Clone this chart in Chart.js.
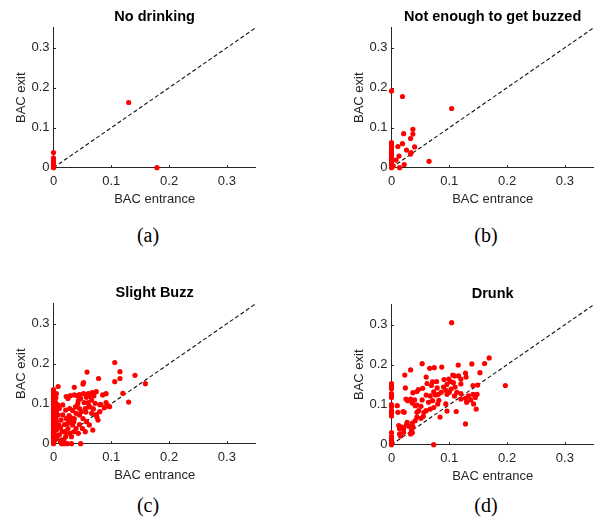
<!DOCTYPE html>
<html>
<head>
<meta charset="utf-8">
<script src="https://cdn.jsdelivr.net/npm/chart.js@4"></script>
<style>
    body { margin: 0; width: 600px; height: 523px; overflow: hidden; background: #fff; position: relative; }
    .panel { position: absolute; }
    .caption { position: absolute; font-family: "Liberation Serif", "Times New Roman", serif; font-size: 20px; color: #000; transform: translate(-50%, -50%); }
</style>
</head>
<body>
<canvas id="chartA" class="panel" width="300" height="215" style="left:0px;top:0px"></canvas>
<canvas id="chartB" class="panel" width="300" height="215" style="left:338px;top:0px"></canvas>
<canvas id="chartC" class="panel" width="300" height="215" style="left:0px;top:276px"></canvas>
<canvas id="chartD" class="panel" width="300" height="215" style="left:338px;top:277px"></canvas>
<div class="caption" style="left:148px;top:235px">(a)</div>
<div class="caption" style="left:486px;top:235px">(b)</div>
<div class="caption" style="left:148px;top:505px">(c)</div>
<div class="caption" style="left:486px;top:505px">(d)</div>
<script>
// ticks shared by every panel
const tickValues = [0, 0.1, 0.2, 0.3];
const tickLabels = ['0', '0.1', '0.2', '0.3'];
const diagX = [0, 0.35];
const diagY = [0, 0.35];

// (a) No drinking
const entranceA = [0.130, 0.179, 0, 0, 0, 0, 0, 0];
const exitA     = [0.163, 0, 0.038, 0.024, 0.018, 0.012, 0.006, 0];

// (b) Not enough to get buzzed
const entranceB = [0, 0.019, 0.104, 0.037, 0.037, 0.021, 0.033, 0.019, 0.011, 0.040, 0.026, 0.034, 0.033, 0.013, 0.008, 0.022, 0.014, 0.065,
    0, 0, 0, 0, 0, 0, 0, 0, 0, 0, 0, 0.003];
const exitB     = [0.192, 0.178, 0.148, 0.096, 0.084, 0.085, 0.073, 0.060, 0.053, 0.052, 0.044, 0.038, 0.034, 0.029, 0.019, 0.008, 0, 0.016,
    0.063, 0.057, 0.052, 0.045, 0.038, 0.032, 0.026, 0.019, 0.012, 0.007, 0, 0.004];

// (c) Slight Buzz
const entranceC = [0.106, 0.115, 0.058, 0.078, 0.115, 0.141, 0.106, 0.159, 0.052, 0.051, 0.036, 0.008, 0.120, 0.130, 0.074, 0.067, 0.060, 0.062,
    0.057, 0.045, 0.041, 0.036, 0.029, 0.022, 0.025, 0.047, 0.043, 0.091, 0.091, 0.094, 0.088, 0.097, 0.082, 0.072, 0.066, 0.060, 0.053, 0.061,
    0.055, 0.069, 0.080, 0.074, 0.066, 0.077, 0.068, 0.051, 0.045, 0.038, 0.033, 0.028, 0.039, 0.045, 0.036, 0.057, 0.062, 0.050, 0.055, 0.043,
    0.033, 0.028, 0.022, 0.016, 0.013, 0.019, 0.025, 0.015, 0.010, 0.021, 0.031, 0.036, 0.009, 0.0075, 0.0075, 0.010, 0.016, 0.021, 0.005, 0.005,
    0.005, 0.006, 0.014, 0.018, 0.024, 0.031, 0.047, 0.039, 0.028, 0.045, 0.030, 0.024, 0.012, 0.018, 0.012, 0.004, 0.004, 0.004, 0.003, 0.003,
    0.004, 0.005, 0.085, 0.080, 0.063, 0.056, 0.075, 0.042, 0.048, 0.035, 0.020, 0.027, 0.070, 0.052,
    0, 0, 0, 0, 0, 0, 0, 0, 0, 0, 0, 0, 0, 0, 0, 0, 0, 0, 0, 0, 0, 0, 0, 0];
const exitC     = [0.203, 0.180, 0.179, 0.163, 0.163, 0.171, 0.155, 0.150, 0.153, 0.149, 0.141, 0.143, 0.126, 0.104, 0.130, 0.128, 0.125, 0.119,
    0.116, 0.123, 0.120, 0.122, 0.120, 0.118, 0.113, 0.113, 0.108, 0.125, 0.103, 0.095, 0.090, 0.0925, 0.098, 0.101, 0.109, 0.1025, 0.103, 0.0925,
    0.088, 0.087, 0.080, 0.073, 0.076, 0.059, 0.034, 0.063, 0.088, 0.092, 0.083, 0.088, 0.076, 0.072, 0.063, 0.055, 0.047, 0.038, 0.030, 0.026,
    0.047, 0.055, 0.063, 0.072, 0.059, 0.048, 0.038, 0.030, 0.022, 0.0175, 0.0175, 0.030, 0.047, 0.072, 0.097, 0.088, 0.097, 0.084, 0.080, 0.055,
    0.034, 0.013, 0, 0, 0, 0, 0, 0.038, 0.026, 0.048, 0.065, 0.050, 0.040, 0.010, 0.005, 0.064, 0.090, 0.045, 0.022, 0.105,
    0.115, 0.125, 0.122, 0.0975, 0.092, 0.079, 0.067, 0.100, 0.080, 0.055, 0.030, 0.070, 0.120, 0.125,
    0.135, 0.130, 0.124, 0.118, 0.112, 0.106, 0.100, 0.094, 0.088, 0.082, 0.076, 0.070, 0.064, 0.058, 0.052, 0.046, 0.040, 0.034, 0.028, 0.022, 0.016, 0.010, 0.004, 0];

// (d) Drunk
const entranceD = [0.104, 0.169, 0.161, 0.139, 0.1155, 0.197, 0.053, 0.074, 0.087, 0.066, 0.033, 0.023, 0.153, 0.128, 0.106, 0.109, 0.116, 0.120,
    0.129, 0.091, 0.099, 0.060, 0.0615, 0.078, 0.102, 0.107, 0.120, 0.141, 0.149, 0.096, 0.071, 0.090, 0.094, 0.079, 0.069, 0.054, 0.0465, 0.024,
    0.110, 0.103, 0.113, 0.120, 0.100, 0.096, 0.109, 0.086, 0.081, 0.076, 0.073, 0.060, 0.067, 0.053, 0.044, 0.037, 0.033, 0.040, 0.025, 0.028,
    0.036, 0.041, 0.044, 0.051, 0.064, 0.071, 0.080, 0.082, 0.094, 0.120, 0.128, 0.130, 0.137, 0.133, 0.141, 0.148, 0.145, 0.142, 0.1465, 0.128,
    0.112, 0.096, 0.084, 0.067, 0.073, 0.056, 0.060, 0.055, 0.051, 0.047, 0.044, 0.044, 0.041, 0.036, 0.037, 0.0345, 0.036, 0.027, 0.022, 0.020,
    0.011, 0.010, 0.0125, 0.014, 0.018, 0.021, 0.026, 0.030, 0.014, 0.0155, 0.021, 0.033, 0.073,
    0, 0, 0, 0, 0, 0, 0, 0, 0, 0, 0, 0, 0, 0, 0, 0, 0];
const exitD     = [0.305, 0.217, 0.203, 0.202, 0.199, 0.148, 0.2025, 0.1925, 0.194, 0.191, 0.187, 0.174, 0.180, 0.179, 0.174, 0.172, 0.172, 0.164,
    0.169, 0.163, 0.164, 0.169, 0.153, 0.158, 0.158, 0.155, 0.152, 0.148, 0.149, 0.151, 0.157, 0.144, 0.136, 0.142, 0.148, 0.141, 0.138, 0.142,
    0.144, 0.139, 0.131, 0.128, 0.131, 0.126, 0.122, 0.131, 0.126, 0.124, 0.132, 0.124, 0.122, 0.112, 0.133, 0.130, 0.114, 0.112, 0.114, 0.110,
    0.104, 0.0975, 0.099, 0.096, 0.106, 0.110, 0.102, 0.111, 0.102, 0.114, 0.116, 0.106, 0.112, 0.122, 0.126, 0.126, 0.118, 0.102, 0.089, 0.052,
    0.083, 0.084, 0.069, 0.089, 0.093, 0.081, 0.085, 0.071, 0.066, 0.085, 0.081, 0.069, 0.060, 0.054, 0.045, 0.0355, 0.030, 0.056, 0.081, 0.083,
    0.081, 0.0975, 0.048, 0.040, 0.044, 0.040, 0.050, 0.046, 0.027, 0.0215, 0.031, 0.027, 0,
    0.153, 0.147, 0.140, 0.128, 0.122, 0.118, 0.100, 0.095, 0.085, 0.080, 0.072, 0.030, 0.020, 0.015, 0.010, 0.005, 0];

const fontFamily = '"Liberation Sans", Arial, Helvetica, sans-serif';
const axisColor = '#262626';

function toPoints(xs, ys) {
    return xs.map(function(x, i) { return {x: x, y: ys[i]}; });
}

// MATLAB style ticks pointing into the plot
const innerTicks = {
    id: 'innerTicks',
    beforeDatasetsDraw(chart) {
        const {ctx, chartArea, scales} = chart;
        ctx.save();
        ctx.strokeStyle = axisColor;
        ctx.lineWidth = 1;
        ctx.beginPath();
        tickValues.forEach(function(v) {
            if (v === 0) return;
            const px = Math.round(scales.x.getPixelForValue(v)) + 0.5;
            ctx.moveTo(px, chartArea.bottom);
            ctx.lineTo(px, chartArea.bottom - 2.5);
            const py = Math.round(scales.y.getPixelForValue(v)) + 0.5;
            ctx.moveTo(chartArea.left, py);
            ctx.lineTo(chartArea.left + 2.5, py);
        });
        ctx.stroke();
        ctx.restore();
    }
};

function axis(title, isY) {
    return {
        type: 'linear',
        min: 0,
        max: 0.35,
        grid: {display: false, drawTicks: false},
        border: {display: true, color: axisColor, width: 1},
        afterBuildTicks: function(s) { s.ticks = tickValues.map(function(v) { return {value: v}; }); },
        afterFit: function(s) {
            if (isY) { s.width = 53.5; } else { s.height = 215 - 167.7; }
        },
        ticks: {
            color: axisColor,
            font: {family: fontFamily, size: 13},
            padding: isY ? 4 : 6,
            maxRotation: 0,
            autoSkip: false,
            callback: function(v, i) { return tickLabels[i]; }
        },
        title: {
            display: true,
            text: title,
            color: axisColor,
            font: {family: fontFamily, size: 13},
            padding: isY ? {top: 14, bottom: 0} : {top: 0, bottom: 8}
        }
    };
}

function makePanel(id, title, xs, ys) {
    new Chart(document.getElementById(id), {
        type: 'scatter',
        data: {
            datasets: [{
                data: toPoints(xs, ys),
                backgroundColor: '#ff0000',
                borderWidth: 0,
                pointRadius: 2.6,
                clip: false,
                order: 0
            }, {
                type: 'line',
                data: toPoints(diagX, diagY),
                borderColor: '#111',
                borderWidth: 1.1,
                borderDash: [4, 2.5],
                pointRadius: 0,
                order: 1
            }]
        },
        options: {
            responsive: false,
            animation: false,
            layout: {padding: {left: 0, right: 44.2, top: 0, bottom: 0}},
            plugins: {
                legend: {display: false},
                tooltip: {enabled: false},
                title: {
                    display: true,
                    text: title,
                    color: '#000',
                    fullSize: false,
                    font: {family: fontFamily, size: 14.5, weight: 'bold'},
                    padding: {top: 8.3, bottom: 2}
                }
            },
            scales: {
                x: axis('BAC entrance', false),
                y: axis('BAC exit', true)
            }
        },
        plugins: [innerTicks]
    });
}

makePanel('chartA', 'No drinking', entranceA, exitA);
makePanel('chartB', 'Not enough to get buzzed', entranceB, exitB);
makePanel('chartC', 'Slight Buzz', entranceC, exitC);
makePanel('chartD', 'Drunk', entranceD, exitD);
</script>
</body>
</html>
